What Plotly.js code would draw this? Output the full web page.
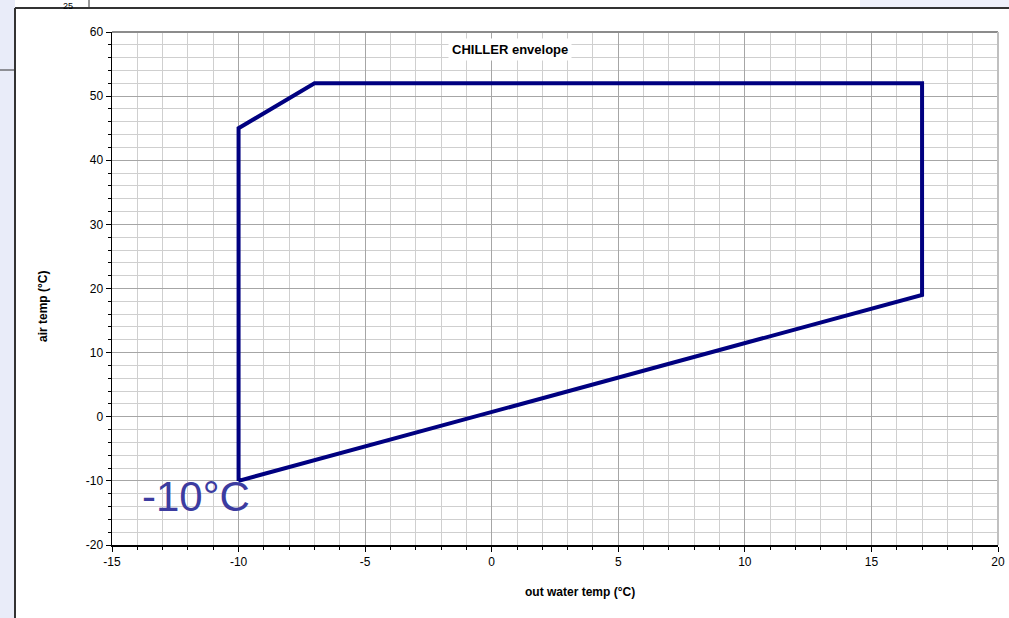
<!DOCTYPE html>
<html>
<head>
<meta charset="utf-8">
<script src="https://cdn.plot.ly/plotly-3.0.1.min.js"></script>
<style>html,body{margin:0;padding:0;background:#fff;}#chart{width:1009px;height:618px;}</style>
</head>
<body>
<div id="chart"></div>
<script>
// Envelope vertices (out water temp °C, air temp °C)
const waterTemp = [-10, -10, -7, 17, 17, -10];
const airTemp   = [-10, 45, 52, 52, 19, -10];

const xTickVals = [-15, -10, -5, 0, 5, 10, 15, 20];
const yTickVals = [-20, -10, 0, 10, 20, 30, 40, 50, 60];

const chartTitle = 'CHILLER envelope';
const xTitle = 'out water temp (°C)';
const yTitle = 'air temp (°C)';
const cornerLabel = '-10°C';
const cornerLabelX = -11.7;
const cornerLabelY = -12.5;

// pixel -> paper helpers (plot area 112..998 x 32..545)
const L = 112, R = 998, T = 32, B = 545;
const px = p => (p - L) / (R - L);
const py = q => (B - q) / (B - T);

const font = 'Liberation Sans';

const trace = {
  x: waterTemp, y: airTemp, type: 'scatter', mode: 'lines',
  line: {color: '#000080', width: 4}, hoverinfo: 'skip', showlegend: false
};

const layout = {
  width: 1009, height: 618,
  margin: {l: L, r: 1009 - R, t: T, b: 618 - B, pad: 0},
  paper_bgcolor: '#ffffff', plot_bgcolor: '#ffffff',
  font: {family: font, size: 12, color: '#000'},
  showlegend: false,
  xaxis: {
    range: [-15, 20], tickvals: xTickVals, ticktext: xTickVals.map(String),
    showgrid: true, gridcolor: '#a6a6a6', gridwidth: 1,
    ticks: 'outside', ticklen: 5, tickcolor: '#000', tickwidth: 1,
    showline: true, linecolor: '#000', linewidth: 1.5,
    zeroline: false, tickfont: {family: font, size: 12, color: '#000'},
    minor: {dtick: 1, showgrid: true, gridcolor: '#cfcfcf', gridwidth: 1, ticks: 'outside', ticklen: 3, tickcolor: '#000'},
    fixedrange: true
  },
  yaxis: {
    range: [-20, 60], tickvals: yTickVals, ticktext: yTickVals.map(String),
    showgrid: true, gridcolor: '#a6a6a6', gridwidth: 1,
    ticks: 'outside', ticklen: 5, tickcolor: '#000', tickwidth: 1,
    showline: true, linecolor: '#000', linewidth: 1.5,
    zeroline: false, tickfont: {family: font, size: 12, color: '#000'},
    minor: {dtick: 2, showgrid: true, gridcolor: '#cfcfcf', gridwidth: 1, ticks: 'outside', ticklen: 3, tickcolor: '#000'},
    fixedrange: true
  },
  shapes: [
    // lavender background outside the frame
    {type: 'rect', xref: 'paper', yref: 'paper', x0: px(0), x1: px(15), y0: py(618), y1: py(0),
     fillcolor: '#e9ecf9', line: {width: 0}, layer: 'below'},
    {type: 'rect', xref: 'paper', yref: 'paper', x0: px(860), x1: px(1009), y0: py(8), y1: py(0),
     fillcolor: '#eef0fa', line: {width: 0}, layer: 'below'},
    // frame borders
    {type: 'line', xref: 'paper', yref: 'paper', x0: px(15), x1: px(15), y0: py(618), y1: py(8),
     line: {color: '#333', width: 2}},
    {type: 'line', xref: 'paper', yref: 'paper', x0: px(15), x1: px(1009), y0: py(8), y1: py(8),
     line: {color: '#333', width: 2}},
    {type: 'line', xref: 'paper', yref: 'paper', x0: px(89), x1: px(89), y0: py(8), y1: py(0),
     line: {color: '#333', width: 1}},
    {type: 'line', xref: 'paper', yref: 'paper', x0: px(0), x1: px(15), y0: py(70), y1: py(70),
     line: {color: '#333', width: 1}},
    // plot border top/right
    {type: 'line', xref: 'paper', yref: 'paper', x0: 0, x1: 1, y0: 1, y1: 1, line: {color: '#8c8c8c', width: 2}},
    {type: 'line', xref: 'paper', yref: 'paper', x0: 1, x1: 1, y0: 0, y1: 1, line: {color: '#c0c0c0', width: 2}}
  ],
  annotations: [
    {text: '<b>' + chartTitle + '</b>', xref: 'paper', yref: 'paper', x: px(510), y: py(49),
     showarrow: false, bgcolor: '#ffffff', borderpad: 3, font: {family: font, size: 13, color: '#000'},
     xanchor: 'center', yanchor: 'middle'},
    {text: '<b>' + xTitle + '</b>', xref: 'paper', yref: 'paper', x: px(580), y: py(592),
     showarrow: false, font: {family: font, size: 12, color: '#000'}, xanchor: 'center', yanchor: 'middle'},
    {text: '<b>' + yTitle + '</b>', xref: 'paper', yref: 'paper', x: px(43), y: py(307), textangle: -90,
     showarrow: false, font: {family: font, size: 12, color: '#000'}, xanchor: 'center', yanchor: 'middle'},
    {text: cornerLabel, xref: 'x', yref: 'y', x: cornerLabelX, y: cornerLabelY,
     showarrow: false, font: {family: font, size: 42, color: '#3c3ca0'}, xanchor: 'center', yanchor: 'middle'},
    {text: '25', xref: 'paper', yref: 'paper', x: px(68), y: py(0), borderpad: 0,
     showarrow: false, font: {family: font, size: 9, color: '#000'}, xanchor: 'center', yanchor: 'top'}
  ]
};

Plotly.newPlot('chart', [trace], layout, {staticPlot: true, displayModeBar: false});
</script>
</body>
</html>
